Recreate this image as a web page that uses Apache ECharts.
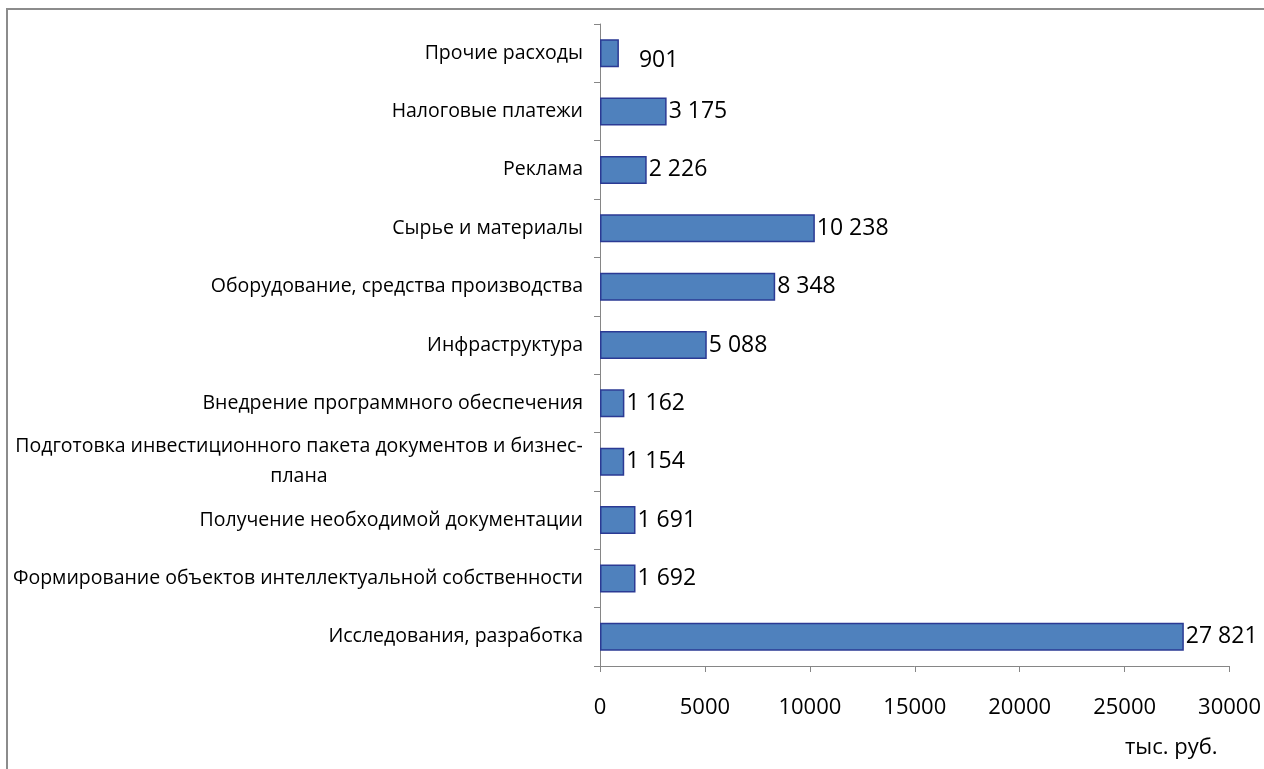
<!DOCTYPE html>
<html>
<head>
<meta charset="utf-8">
<script src="https://cdn.jsdelivr.net/npm/echarts@6/dist/echarts.min.js"></script>
<style>
html, body { margin: 0; padding: 0; background: #fff; }
#chart { width: 1264px; height: 769px; }
</style>
</head>
<body>
<div id="chart"></div>
<script>
// categories bottom to top (as in category axis order)
var categories = [
    'Исследования, разработка',
    'Формирование объектов интеллектуальной собственности',
    'Получение необходимой документации',
    'Подготовка инвестиционного пакета документов и бизнес-плана',
    'Внедрение программного обеспечения',
    'Инфраструктура',
    'Оборудование, средства производства',
    'Сырье и материалы',
    'Реклама',
    'Налоговые платежи',
    'Прочие расходы'
];
var values = [27821, 1692, 1691, 1154, 1162, 5088, 8348, 10238, 2226, 3175, 901];
var xTicks = [0, 5000, 10000, 15000, 20000, 25000, 30000];
var unitLabel = 'тыс. руб.';

var catFont = '"Open Sans", sans-serif';
var catSize = 19.5;

// width of the first line of the wrapped label, so that the second line can be centred under it
var longLine = 'Подготовка инвестиционного пакета документов и бизнес-';
var ctx = document.createElement('canvas').getContext('2d');
ctx.font = catSize + 'px ' + catFont;
var longW = Math.ceil(ctx.measureText(longLine).width);

function fmtNum(v) {
    return String(v).replace(/\B(?=(\d{3})+(?!\d))/g, ' ');
}

// the "901" label sits a little apart from its bar in the original
var barData = values.map(function (v, i) {
    if (i === values.length - 1) {
        return {value: v, label: {offset: [18, 7]}};
    }
    return v;
});

var chart = echarts.init(document.getElementById('chart'));
var option = {
    animation: false,
    backgroundColor: '#fff',
    grid: {
        left: 600,
        right: 34,
        top: 24,
        bottom: 103,
        containLabel: false
    },
    xAxis: {
        type: 'value',
        min: xTicks[0],
        max: xTicks[xTicks.length - 1],
        interval: 5000,
        splitLine: {show: false},
        axisLine: {show: true, lineStyle: {color: '#868686', width: 1}},
        axisTick: {show: true, length: 6, lineStyle: {color: '#868686'}},
        axisLabel: {
            color: '#000',
            fontSize: 22,
            fontFamily: catFont,
            margin: 31,
            formatter: function (v) { return String(v); }
        }
    },
    yAxis: {
        type: 'category',
        data: categories,
        axisLine: {show: true, onZero: false, lineStyle: {color: '#868686', width: 1}},
        axisTick: {show: true, length: 6, lineStyle: {color: '#868686'}},
        axisLabel: {
            color: '#000',
            fontSize: catSize,
            fontFamily: catFont,
            margin: 17,
            formatter: function (v) {
                if (v === categories[3]) {
                    return '{a|' + longLine + '}\n{a|плана}';
                }
                return v;
            },
            rich: {
                a: {
                    width: longW,
                    align: 'center',
                    fontSize: catSize,
                    fontFamily: catFont,
                    color: '#000',
                    lineHeight: 30
                }
            }
        }
    },
    series: [{
        type: 'bar',
        data: barData,
        barWidth: 28,
        itemStyle: {
            color: '#4F81BD',
            borderColor: '#2B3A94',
            borderWidth: 1.5
        },
        label: {
            show: true,
            position: 'right',
            distance: 2,
            color: '#000',
            fontSize: 23,
            fontFamily: catFont,
            formatter: function (p) { return fmtNum(p.value); }
        }
    }],
    graphic: [{
        type: 'rect',
        shape: {x: 7, y: 9, width: 1300, height: 800},
        style: {fill: 'none', stroke: '#8c8c8c', lineWidth: 2},
        silent: true
    }, {
        type: 'text',
        left: 1125,
        top: 737,
        style: {
            text: unitLabel,
            fill: '#000',
            fontSize: 22,
            fontFamily: catFont
        }
    }]
};
chart.setOption(option);
</script>
</body>
</html>
